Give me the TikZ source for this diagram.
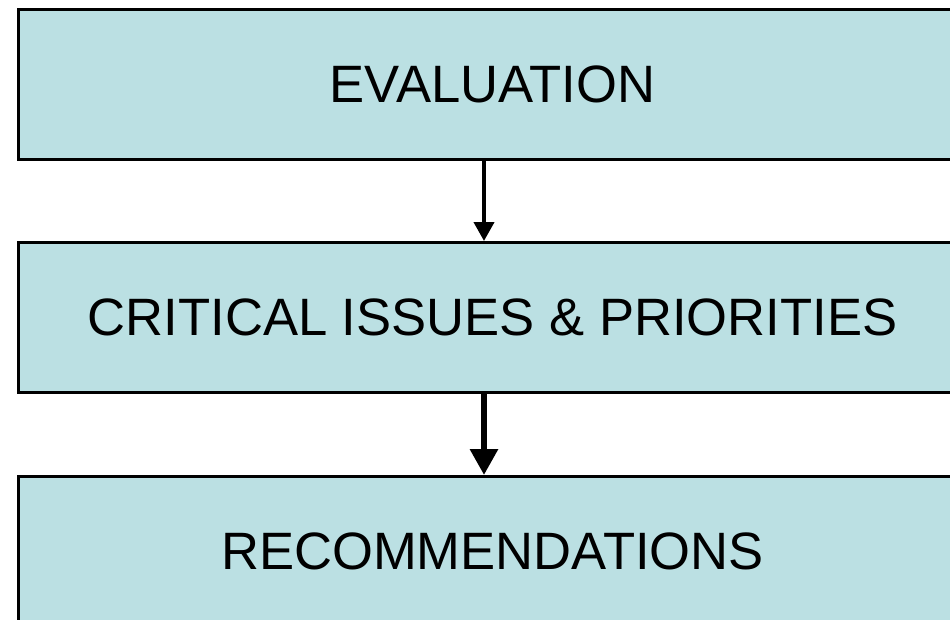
\documentclass[tikz,border=0pt]{standalone}
\usepackage{fontspec}
\setmainfont{Liberation Sans}
\usetikzlibrary{arrows.meta}
\definecolor{boxfill}{RGB}{187,224,227}
\begin{document}
\begin{tikzpicture}[x=1pt,y=-1pt,
  stage/.style={draw=black, line width=3pt, fill=boxfill, minimum width=948pt, minimum height=150pt, inner sep=0pt, anchor=north west, font=\fontsize{52.6}{62}\selectfont},
  flow/.style={draw=black, -{Triangle[width=20pt,length=19pt]}, line width=4pt}]
\useasboundingbox (0,0) rectangle (950,619);
\clip (0,0) rectangle (950,619);
\node[stage] (eval) at (17,8) {EVALUATION};
\node[stage] (crit) at (17,241) {CRITICAL ISSUES \& PRIORITIES};
\node[stage] (rec) at (17,475) {RECOMMENDATIONS};
\coordinate (a1s) at (484,158);
\coordinate (a1e) at (484,241);
\coordinate (a2s) at (484,391);
\coordinate (a2e) at (484,475);
\draw[flow] (a1s) -- (a1e);
\draw[flow, line width=6pt, -{Triangle[width=27pt,length=26pt]}] (a2s) -- (a2e);
\end{tikzpicture}
\end{document}
